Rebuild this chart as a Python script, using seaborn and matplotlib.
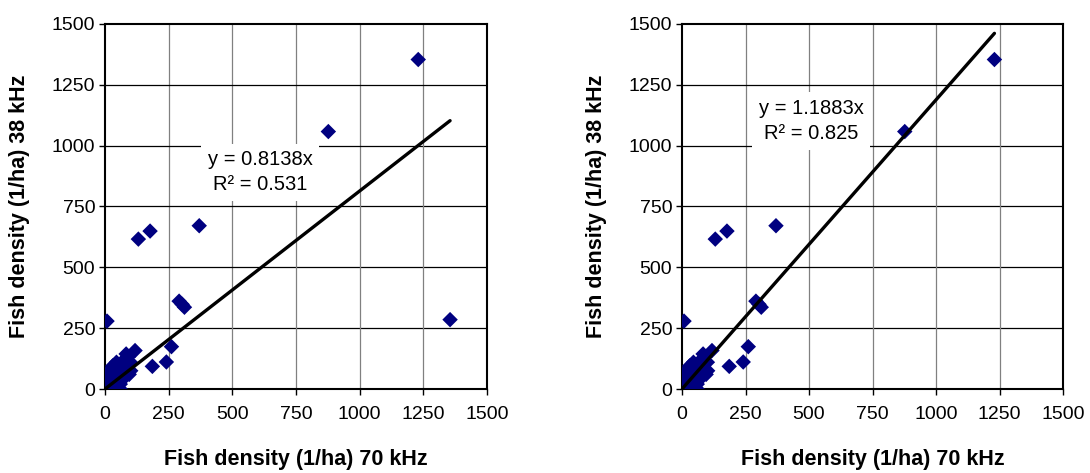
import matplotlib
matplotlib.use("Agg")
import matplotlib.pyplot as plt
import seaborn as sns
import numpy as np
import pandas as pd

# fish density estimates (1/ha)
fish_70khz = [1230, 877, 1355, 370, 177, 131, 291, 312, 303, 8, 261, 241, 186,
              118, 83, 101, 90, 80, 75, 70, 68, 65, 62, 60, 60, 58, 55, 52, 50,
              48, 45, 45, 42, 40, 38, 35, 35, 32, 30, 28, 25, 22, 20, 18, 15,
              12, 10, 8, 5, 2, 100, 95]
fish_38khz = [1354, 1058, 285, 671, 649, 616, 361, 336, 348, 279, 174, 111, 93,
              158, 144, 75, 130, 90, 120, 40, 70, 105, 50, 0, 20, 80, 30, 60,
              90, 40, 75, 110, 10, 100, 55, 20, 85, 70, 95, 30, 50, 80, 15, 40,
              60, 20, 30, 5, 10, 48, 110, 60]

# the right panel leaves out the outlier at 1355 / 285
outlier_70 = 1355
slope_all = 0.8138
r2_all = 0.531
slope_trim = 1.1883
r2_trim = 0.825

df = pd.DataFrame({"f70": fish_70khz, "f38": fish_38khz})
df_trim = df[df["f70"] != outlier_70]

sns.set_style("white")
plt.rcParams['font.family'] = ['Liberation Sans', 'DejaVu Sans']
plt.rcParams['text.color'] = 'black'
plt.rcParams['axes.labelcolor'] = 'black'
plt.rcParams['xtick.color'] = 'black'
plt.rcParams['ytick.color'] = 'black'

fig = plt.figure(figsize=(10.9, 4.73), dpi=100)
ax1 = fig.add_axes([105 / 1090, 1 - 389 / 473, 382 / 1090, 365 / 473])
ax2 = fig.add_axes([682 / 1090, 1 - 389 / 473, 381 / 1090, 365 / 473])

panels = [
    (ax1, df, slope_all, r2_all, (609, 890)),
    (ax2, df_trim, slope_trim, r2_trim, (508, 1100)),
]

ticks = [0, 250, 500, 750, 1000, 1250, 1500]

for ax, d, slope, r2, pos in panels:
    for t in ticks[1:-1]:
        ax.axvline(t, color="#808080", lw=0.9, zorder=0)
        ax.axhline(t, color="black", lw=0.9, zorder=0)
    sns.scatterplot(data=d, x="f70", y="f38", marker="D", color="#000080",
                    s=62, edgecolor="none", ax=ax, zorder=3)
    xfit = np.array([0, d["f70"].max()])
    sns.lineplot(x=xfit, y=slope * xfit, color="black", lw=2.4, ax=ax, zorder=4)
    ax.text(pos[0], pos[1], f"y = {slope}x\nR² = {r2}", ha="center",
            va="center", multialignment="center", linespacing=1.4,
            fontsize=14.5, zorder=5,
            bbox=dict(facecolor="white", edgecolor="none", pad=5))
    ax.set_xlim(0, 1500)
    ax.set_ylim(0, 1500)
    ax.set_xticks(ticks)
    ax.set_yticks(ticks)
    ax.tick_params(axis="both", labelsize=14, direction="out", length=4,
                   width=1, left=True, bottom=True, pad=3)
    ax.tick_params(axis="x", pad=8)
    for sp in ax.spines.values():
        sp.set_color("black")
        sp.set_linewidth(1.5)
    ax.set_xlabel("Fish density (1/ha) 70 kHz", fontsize=15.5,
                  fontweight="bold", labelpad=19)
    ax.set_ylabel("Fish density (1/ha) 38 kHz", fontsize=15.5,
                  fontweight="bold", labelpad=16)

plt.savefig("out.png", dpi=100)
